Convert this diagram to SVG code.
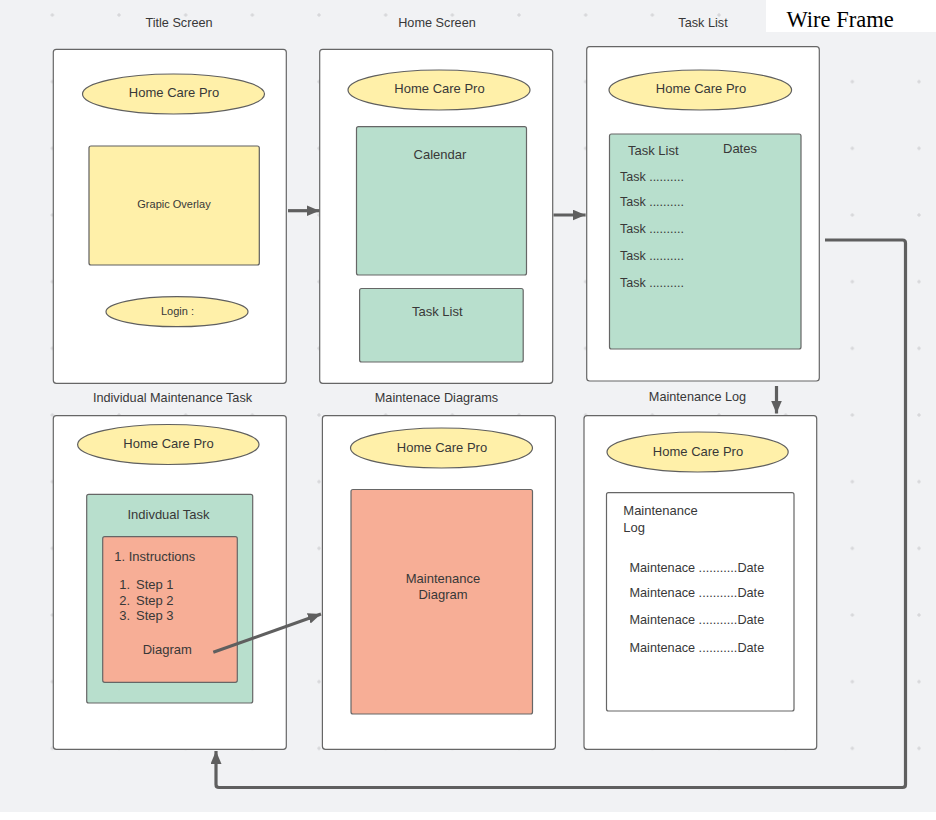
<svg xmlns="http://www.w3.org/2000/svg" width="936" height="820" viewBox="0 0 936 820">
<style>
.t{font-family:"Liberation Sans",Arial,sans-serif;fill:#383838;}
.c{text-anchor:middle;}
.frame{fill:#ffffff;stroke:#666;stroke-width:1.2;}
.yel{fill:#fff0a9;stroke:#5f5f5f;stroke-width:1.2;}
.grn{fill:#b8dfcd;stroke:#666;stroke-width:1.2;}
.sal{fill:#f7ae96;stroke:#666;stroke-width:1.2;}
.wht{fill:#ffffff;stroke:#666;stroke-width:1.2;}
.con{fill:none;stroke:#5f5f5f;stroke-width:3.2;stroke-linejoin:round;}
</style>
<defs>
<pattern id="grid" patternUnits="userSpaceOnUse" x="49.33" y="12" width="66.667" height="66.667">
<path d="M1,3 H5 M3,1 V5" stroke="#c4c4c8" stroke-width="0.7"/>
</pattern>
<marker id="ah" markerUnits="userSpaceOnUse" markerWidth="14" markerHeight="12" refX="13" refY="5.5" orient="auto">
<path d="M0,0 L13,5.5 L0,11 Z" fill="#5f5f5f"/>
</marker>
</defs>
<rect x="0" y="0" width="936" height="812" fill="#f1f2f4"/>
<rect x="0" y="0" width="936" height="812" fill="url(#grid)"/>
<rect x="0" y="812" width="936" height="8" fill="#ffffff"/>
<rect x="766" y="0" width="170" height="32" fill="#ffffff"/>
<text x="786.5" y="26.5" font-family="'Liberation Serif','Times New Roman',serif" font-size="22.5" fill="#000">Wire Frame</text>

<g class="t" font-size="12.7">
<text class="t c" x="179" y="27">Title Screen</text>
<text class="t c" x="437" y="27">Home Screen</text>
<text class="t c" x="703" y="27">Task List</text>
<text class="t c" x="172.5" y="401.5">Individual Maintenance Task</text>
<text class="t c" x="436.5" y="401.5">Maintenace Diagrams</text>
<text class="t c" x="697.5" y="400.5">Maintenance Log</text>
</g>

<g id="title-screen">
<rect class="frame" x="53.3" y="49.3" width="233" height="334" rx="3"/>
<ellipse class="yel" cx="173.5" cy="94" rx="91" ry="20"/>
<text class="t c" x="174" y="97" font-size="13">Home Care Pro</text>
<rect class="yel" x="89" y="146" width="170.3" height="119" rx="2"/>
<text class="t c" x="174" y="208" font-size="11">Grapic Overlay</text>
<ellipse class="yel" cx="177" cy="311.7" rx="71" ry="15"/>
<text class="t c" x="177.5" y="315" font-size="11">Login :</text>
</g>

<g id="home-screen">
<rect class="frame" x="319.7" y="49.3" width="233" height="334" rx="3"/>
<ellipse class="yel" cx="439" cy="90" rx="91" ry="20"/>
<text class="t c" x="439.5" y="93.3" font-size="13">Home Care Pro</text>
<rect class="grn" x="356.5" y="126.7" width="170" height="148.3" rx="2"/>
<text class="t c" x="440" y="159" font-size="13">Calendar</text>
<rect class="grn" x="359.6" y="288.5" width="163.6" height="73.5" rx="2"/>
<text class="t c" x="437.3" y="316" font-size="13">Task List</text>
</g>

<g id="task-list">
<rect class="frame" x="586.7" y="46.7" width="232.6" height="334.3" rx="3"/>
<ellipse class="yel" cx="700.3" cy="90" rx="91.3" ry="20"/>
<text class="t c" x="701" y="93.3" font-size="13">Home Care Pro</text>
<rect class="grn" x="609.5" y="134" width="191.5" height="215" rx="2"/>
<text class="t" x="628" y="155" font-size="13">Task List</text>
<text class="t" x="723" y="152.7" font-size="13">Dates</text>
<text class="t" x="620" y="180.7" font-size="12.5">Task ..........</text>
<text class="t" x="620" y="206.3" font-size="12.5">Task ..........</text>
<text class="t" x="620" y="232.7" font-size="12.5">Task ..........</text>
<text class="t" x="620" y="259.7" font-size="12.5">Task ..........</text>
<text class="t" x="620" y="286.5" font-size="12.5">Task ..........</text>
</g>

<g id="individual-task">
<rect class="frame" x="53.3" y="415.7" width="233" height="333.6" rx="3"/>
<ellipse class="yel" cx="168.3" cy="444.5" rx="90.7" ry="20"/>
<text class="t c" x="168.5" y="448" font-size="13">Home Care Pro</text>
<rect class="grn" x="86.7" y="494.3" width="166" height="208.7" rx="2"/>
<text class="t c" x="168.5" y="518.5" font-size="13">Indivdual Task</text>
<rect class="sal" x="102.7" y="536.7" width="134.6" height="145.6" rx="2"/>
<text class="t" x="114.3" y="561" font-size="13">1. Instructions</text>
<text class="t" x="119.3" y="589" font-size="13">1.</text>
<text class="t" x="136" y="589" font-size="13">Step 1</text>
<text class="t" x="119.3" y="604.5" font-size="13">2.</text>
<text class="t" x="136" y="604.5" font-size="13">Step 2</text>
<text class="t" x="119.3" y="620" font-size="13">3.</text>
<text class="t" x="136" y="620" font-size="13">Step 3</text>
<text class="t c" x="167.3" y="654" font-size="13">Diagram</text>
</g>

<g id="maintenance-diagrams">
<rect class="frame" x="322.4" y="415.7" width="233" height="333.6" rx="3"/>
<ellipse class="yel" cx="441.5" cy="448" rx="91" ry="20"/>
<text class="t c" x="442" y="451.5" font-size="13">Home Care Pro</text>
<rect class="sal" x="351" y="489.5" width="181.5" height="224.5" rx="2"/>
<text class="t c" x="443" y="583" font-size="13">Maintenance</text>
<text class="t c" x="443" y="599" font-size="13">Diagram</text>
</g>

<g id="maintenance-log">
<rect class="frame" x="584" y="415.7" width="232.7" height="333.6" rx="3"/>
<ellipse class="yel" cx="697.6" cy="452" rx="90.6" ry="20"/>
<text class="t c" x="698" y="455.5" font-size="13">Home Care Pro</text>
<rect class="wht" x="606.5" y="492.7" width="187.5" height="218.3" rx="2"/>
<text class="t" x="623.3" y="515" font-size="13">Maintenance</text>
<text class="t" x="623.3" y="531.5" font-size="13">Log</text>
<text class="t" x="629.5" y="571.7" font-size="12.7">Maintenace ...........Date</text>
<text class="t" x="629.5" y="596.7" font-size="12.7">Maintenace ...........Date</text>
<text class="t" x="629.5" y="624" font-size="12.7">Maintenace ...........Date</text>
<text class="t" x="629.5" y="651.5" font-size="12.7">Maintenace ...........Date</text>
</g>

<g id="connectors">
<path class="con" d="M288,210.7 H319.5" marker-end="url(#ah)"/>
<path class="con" d="M553.5,215 H585.5" marker-end="url(#ah)"/>
<path class="con" d="M776.5,386 V413.5" marker-end="url(#ah)"/>
<path class="con" d="M213.3,652.3 L321,614" marker-end="url(#ah)"/>
<path class="con" d="M825,240 H902.5 Q905.5,240 905.5,243 V784.5 Q905.5,787.5 902.5,787.5 H219 Q216,787.5 216,784.5 V751" marker-end="url(#ah)"/>
</g>
</svg>
